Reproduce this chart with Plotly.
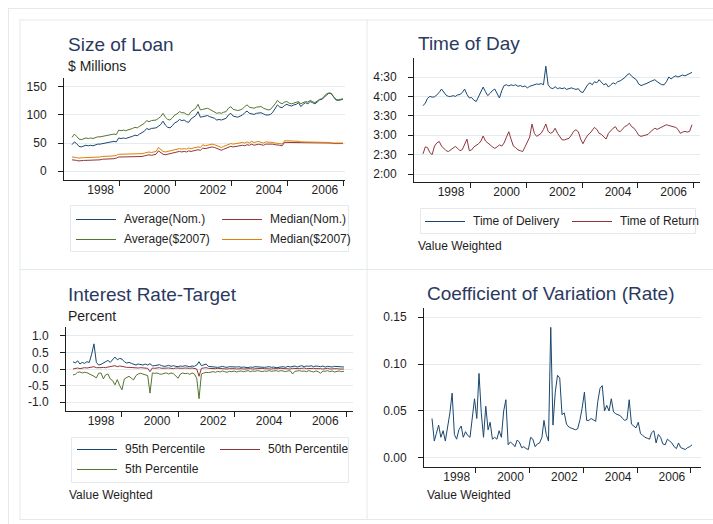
import plotly.graph_objects as go
import pandas as pd
from datetime import datetime

W, H = 713, 524

# ---------------- data ----------------
dates = pd.date_range("1997-01-01", periods=117, freq="MS").strftime("%Y-%m-%d").tolist()
tick_years = [1998, 2000, 2002, 2004, 2006]
year_labels = ["1998", "2000", "2002", "2004", "2006"]

# Size of Loan ($ Millions)
avg_nom = [47, 52, 49, 44, 43, 44, 46, 45, 46, 45, 47, 48,
           48, 49, 49, 50, 51, 52, 53, 52, 59, 58, 59, 58,
           59, 60, 62, 64, 63, 66, 68, 71, 76, 74, 76, 77,
           77, 80, 83, 89, 82, 78, 77, 81, 86, 88, 92, 90,
           91, 88, 87, 93, 96, 99, 106, 96, 97, 98, 99, 97,
           96, 94, 91, 92, 91, 93, 94, 100, 103, 98, 97, 96,
           98, 100, 104, 107, 103, 102, 101, 103, 104, 104, 102, 100,
           100, 101, 105, 111, 118, 114, 113, 117, 119, 117, 116, 118,
           119, 122, 115, 119, 122, 120, 124, 122, 120, 123, 127, 128,
           132, 137, 139, 138, 132, 127, 126, 127, 128]
avg_real = [60, 66, 62, 57, 56, 57, 59, 58, 59, 58, 60, 61,
            61, 62, 62, 63, 64, 65, 66, 65, 73, 72, 73, 72,
            73, 74, 76, 78, 77, 80, 82, 85, 90, 88, 90, 91,
            91, 94, 97, 103, 96, 92, 91, 95, 100, 102, 106, 104,
            104, 101, 100, 106, 109, 112, 119, 109, 110, 111, 112, 110,
            108, 106, 103, 104, 103, 105, 106, 112, 115, 110, 109, 108,
            109, 111, 115, 118, 114, 113, 112, 114, 115, 115, 112, 110,
            109, 110, 114, 120, 126, 122, 120, 123, 124, 121, 120, 121,
            122, 124, 120, 122, 124, 123, 126, 124, 122, 125, 128, 129,
            133, 138, 139, 139, 133, 128, 127, 128, 129]
med_nom = [20, 20, 19, 18, 19, 19, 19, 19, 20, 20, 20, 20,
           20, 21, 21, 21, 22, 22, 22, 23, 25, 25, 25, 25,
           25, 25, 25, 25, 26, 26, 26, 27, 28, 29, 28, 29,
           30, 36, 33, 30, 29, 30, 31, 32, 33, 34, 35, 34,
           35, 34, 36, 35, 36, 37, 38, 37, 41, 40, 41, 43,
           43, 42, 40, 38, 37, 39, 41, 42, 44, 43, 44, 45,
           45, 46, 45, 47, 46, 48, 46, 47, 48, 47, 46, 48,
           48, 49, 48, 47, 47, 46, 45, 51, 51, 51, 51, 50,
           50, 50, 50, 50, 50, 50, 50, 50, 50, 50, 50, 50,
           50, 50, 50, 50, 49, 49, 49, 49, 49]
med_real = [25, 25, 24, 23, 24, 24, 24, 24, 25, 25, 25, 25,
            25, 26, 26, 26, 27, 27, 27, 28, 30, 30, 30, 30,
            30, 30, 30, 30, 31, 31, 31, 32, 33, 34, 33, 34,
            35, 42, 38, 35, 34, 35, 36, 37, 38, 39, 40, 39,
            40, 39, 41, 40, 41, 42, 43, 42, 47, 45, 46, 48,
            48, 47, 45, 43, 42, 44, 46, 47, 49, 48, 49, 50,
            50, 51, 50, 52, 50, 53, 51, 52, 53, 51, 50, 52,
            52, 52, 51, 50, 50, 49, 48, 54, 54, 54, 53, 53,
            53, 53, 52, 52, 52, 52, 52, 51, 51, 51, 51, 51,
            51, 51, 51, 50, 50, 50, 50, 50, 50]

# Time of Day (hours, decimal)
t_delivery = [3.76, 3.83, 3.95, 4.0, 3.98, 3.99, 4.04, 4.1, 4.19, 4.1, 4.03, 4.0,
              4.0, 4.02, 4.0, 4.04, 4.05, 4.1, 4.19, 4.05, 3.96, 3.97, 3.9, 3.87,
              4.0, 4.15, 4.24, 4.12, 4.02, 4.08, 4.15, 4.19, 4.05, 3.96, 4.15, 4.28,
              4.3, 4.27, 4.3, 4.28, 4.3, 4.26, 4.28, 4.25, 4.27, 4.22, 4.26, 4.28,
              4.3, 4.32, 4.31, 4.33, 4.3, 4.78, 4.3, 4.22, 4.2, 4.25, 4.2, 4.22,
              4.2, 4.22, 4.18, 4.2, 4.22, 4.2, 4.18, 4.2, 4.12, 4.1, 4.22, 4.3,
              4.35, 4.3, 4.38, 4.35, 4.43, 4.36, 4.3, 4.33, 4.24, 4.3, 4.35, 4.32,
              4.38, 4.4, 4.43, 4.48, 4.55, 4.59, 4.52, 4.48, 4.43, 4.32, 4.28, 4.3,
              4.32, 4.35, 4.38, 4.4, 4.43, 4.38, 4.35, 4.3, 4.3, 4.38, 4.5, 4.45,
              4.5, 4.53, 4.5, 4.52, 4.55, 4.53, 4.56, 4.58, 4.62]
t_return = [2.52, 2.7, 2.68, 2.55, 2.5, 2.72, 2.8, 2.84, 2.72, 2.66, 2.6, 2.58,
            2.62, 2.68, 2.71, 2.66, 2.6, 2.63, 2.75, 2.9, 2.6, 2.62, 2.7, 2.74,
            2.78, 2.85, 2.98, 2.85, 2.79, 2.75, 2.7, 2.66, 2.7, 2.75, 2.72, 2.8,
            2.95, 3.09, 2.9, 2.72, 2.68, 2.62, 2.6, 2.58, 2.7, 2.82, 2.95, 3.29,
            3.05, 2.97, 3.02, 3.05, 3.15, 3.29, 3.1, 3.05, 3.08, 3.18, 3.05, 2.95,
            2.88, 2.88, 2.9, 2.92, 3.0, 3.1, 3.14, 3.09, 2.9, 2.78, 2.9, 3.0,
            3.05, 3.12, 3.2, 3.15, 3.05, 3.02, 2.95, 2.9, 3.05, 3.12, 3.18, 3.22,
            3.12, 3.09, 3.15, 3.22, 3.25, 3.31, 3.22, 3.18, 3.1, 3.0, 2.97, 2.98,
            3.0, 3.02, 3.08, 3.12, 3.18, 3.15, 3.18, 3.2, 3.22, 3.27, 3.25, 3.23,
            3.22, 3.2, 3.15, 3.05, 3.08, 3.1, 3.08, 3.1, 3.27]
time_tickvals = [2.0, 2.5, 3.0, 3.5, 4.0, 4.5]
time_ticktext = ["2:00", "2:30", "3:00", "3:30", "4:00", "4:30"]

# Interest Rate - Target (percent)
p95 = [0.22, 0.18, 0.25, 0.15, 0.2, 0.17, 0.22, 0.2, 0.45, 0.76, 0.2, 0.12,
       0.14, 0.18, 0.2, 0.26, 0.2, 0.3, 0.36, 0.28, 0.32, 0.3, 0.22, 0.18,
       0.2, 0.17, 0.14, 0.12, 0.15, 0.13, 0.12, 0.15, 0.12, 0.16, 0.1, 0.1,
       0.12, 0.13, 0.1, 0.08, 0.09, 0.11, 0.08, 0.1, 0.08, 0.07, 0.09, 0.08,
       0.1, 0.08, 0.07, 0.09, 0.08, 0.12, 0.22, 0.1, 0.12, 0.15, 0.08, 0.07,
       0.06, 0.07, 0.05, 0.06, 0.08, 0.06, 0.05, 0.07, 0.06, 0.05, 0.06, 0.07,
       0.05, 0.06, 0.05, 0.04, 0.06, 0.05, 0.07, 0.06, 0.05, 0.06, 0.05, 0.06,
       0.07, 0.05, 0.06, 0.04, 0.05, 0.06, 0.07, 0.05, 0.08, 0.06, 0.07, 0.09,
       0.06, 0.08, 0.1, 0.07, 0.09, 0.08, 0.1, 0.07, 0.09, 0.08, 0.07, 0.09,
       0.06, 0.08, 0.07, 0.06, 0.08, 0.07, 0.06, 0.07, 0.06]
p50 = [0.0, 0.02, 0.03, 0.01, 0.03, 0.04, 0.03, 0.05, 0.06, 0.07, 0.04, 0.03,
       0.04, 0.05, 0.04, 0.06, 0.07, 0.09, 0.1, 0.07, 0.09, 0.08, 0.06, 0.05,
       0.05, 0.04, 0.05, 0.04, 0.03, 0.04, 0.03, 0.04, 0.02, -0.08, 0.03, 0.02,
       0.03, 0.04, 0.02, 0.03, 0.02, 0.03, 0.02, 0.01, 0.03, 0.02, 0.03, 0.02,
       0.03, 0.02, 0.02, 0.03, 0.02, 0.0, -0.22, 0.02, 0.03, 0.04, 0.02, 0.01,
       0.02, 0.01, 0.02, 0.01, 0.02, 0.01, 0.0, 0.01, 0.02, 0.01, 0.0, 0.01,
       0.01, 0.0, 0.01, 0.02, 0.01, 0.0, 0.01, 0.0, 0.01, 0.02, 0.01, 0.0,
       0.01, 0.0, 0.01, 0.0, 0.01, 0.02, 0.01, 0.02, 0.01, 0.0, 0.02, 0.01,
       0.02, 0.01, 0.02, 0.03, 0.01, 0.02, 0.01, 0.02, 0.01, 0.02, 0.01, 0.0,
       0.01, 0.02, 0.0, 0.01, 0.02, 0.01, 0.0, 0.01, 0.0]
p5 = [-0.18, -0.16, -0.1, -0.09, -0.12, -0.1, -0.11, -0.14, -0.18, -0.22, -0.27, -0.13,
      -0.12, -0.3, -0.18, -0.15, -0.3, -0.35, -0.48, -0.32, -0.5, -0.63, -0.3, -0.25,
      -0.22, -0.28, -0.33, -0.2, -0.15, -0.13, -0.15, -0.16, -0.2, -0.73, -0.12, -0.13,
      -0.12, -0.15, -0.16, -0.13, -0.12, -0.15, -0.12, -0.14, -0.2, -0.28, -0.15, -0.12,
      -0.14, -0.13, -0.16, -0.12, -0.15, -0.28, -0.9, -0.15, -0.12, -0.1, -0.11, -0.09,
      -0.08, -0.1, -0.07, -0.09, -0.06, -0.08, -0.1, -0.07, -0.08, -0.06, -0.09, -0.07,
      -0.06, -0.08, -0.07, -0.05, -0.08, -0.06, -0.07, -0.05, -0.06, -0.08, -0.06, -0.07,
      -0.05, -0.07, -0.06, -0.05, -0.07, -0.05, -0.06, -0.08, -0.06, -0.05, -0.15, -0.07,
      -0.06, -0.05, -0.07, -0.06, -0.08, -0.05, -0.07, -0.09, -0.06, -0.08, -0.13, -0.06,
      -0.07, -0.05, -0.08, -0.06, -0.09, -0.07, -0.06, -0.08, -0.07]
rate_tickvals = [-1.0, -0.5, 0.0, 0.5, 1.0]
rate_ticktext = ["-1.0", "-0.5", "0.0", "0.5", "1.0"]

# Coefficient of Variation (Rate)
cv = [0.042, 0.018, 0.026, 0.035, 0.022, 0.029, 0.018, 0.032, 0.048, 0.069, 0.025, 0.02,
      0.03, 0.034, 0.022, 0.028, 0.024, 0.022, 0.045, 0.063, 0.042, 0.09, 0.048, 0.022,
      0.055, 0.03, 0.038, 0.02, 0.022, 0.02, 0.029, 0.022, 0.05, 0.062, 0.014, 0.017,
      0.015, 0.012, 0.019, 0.017, 0.011, 0.012, 0.01, 0.009, 0.022, 0.02, 0.012, 0.015,
      0.016, 0.022, 0.04, 0.025, 0.018, 0.139, 0.035, 0.07, 0.088, 0.085, 0.046, 0.048,
      0.036, 0.033, 0.032, 0.031, 0.03, 0.031, 0.04, 0.053, 0.07, 0.04, 0.04, 0.042,
      0.04, 0.039, 0.06, 0.074, 0.077, 0.05, 0.056, 0.05, 0.063, 0.049, 0.047, 0.046,
      0.045, 0.042, 0.04, 0.041, 0.062, 0.036, 0.034, 0.032, 0.038, 0.026, 0.024, 0.022,
      0.021, 0.02, 0.027, 0.029, 0.016, 0.025, 0.022, 0.015, 0.014, 0.02, 0.018, 0.016,
      0.012, 0.01, 0.016, 0.011, 0.01, 0.009, 0.011, 0.012, 0.014]
cv_tickvals = [0.0, 0.05, 0.10, 0.15]
cv_ticktext = ["0.00", "0.05", "0.10", "0.15"]

for s in (avg_nom, avg_real, med_nom, med_real, t_delivery, t_return, p95, p50, p5, cv):
    assert len(s) == len(dates), len(s)

# ---------------- style ----------------
NAVY, MAROON, GREEN, ORANGE = "#1a476f", "#90353b", "#55752f", "#e37e00"
GRID = "#e4ebef"
AXC = "#1e1e1e"
FRAME = "#e3eaee"
TITLE = "#2b3961"
TXT = "#1e1e1e"
FONT = "Liberation Sans, Arial, sans-serif"


def dec2date(v):
    y = int(v)
    a, b = datetime(y, 1, 1), datetime(y + 1, 1, 1)
    return (a + (b - a) * (v - y)).strftime("%Y-%m-%d %H:%M:%S")


def fx(px):
    return px / W


def fy(py):
    return 1 - py / H


fig = go.Figure()


def add_line(y, name, color, ax):
    fig.add_trace(go.Scatter(
        x=dates, y=y, name=name, mode="lines",
        line=dict(color=color, width=1),
        xaxis="x" + ax, yaxis="y" + ax,
        showlegend=False, hoverinfo="skip"))


add_line(avg_nom, "Average(Nom.)", NAVY, "")
add_line(med_nom, "Median(Nom.)", MAROON, "")
add_line(avg_real, "Average($2007)", GREEN, "")
add_line(med_real, "Median($2007)", ORANGE, "")

add_line(t_delivery, "Time of Delivery", NAVY, "2")
add_line(t_return, "Time of Return", MAROON, "2")

add_line(p95, "95th Percentile", NAVY, "3")
add_line(p50, "50th Percentile", MAROON, "3")
add_line(p5, "5th Percentile", GREEN, "3")

add_line(cv, "Coefficient of Variation", NAVY, "4")


def xax(x0, x1, r0, r1, offset, shift, anchor):
    return dict(
        domain=[fx(x0), fx(x1)], range=[dec2date(r0), dec2date(r1)], type="date",
        tickmode="array", tickvals=[dec2date(t + offset) for t in tick_years],
        ticktext=year_labels, ticks="outside", ticklen=5, tickcolor=AXC, tickwidth=1,
        ticklabelshift=shift, ticklabelstandoff=-6,
        showgrid=False, zeroline=False, showline=True, linecolor=AXC, linewidth=1,
        tickfont=dict(size=12, color=TXT, family=FONT),
        anchor=anchor, fixedrange=True)


def yax(y0, y1, rng, tickvals, ticktext, anchor):
    return dict(
        domain=[fy(y1), fy(y0)], range=rng, tickmode="array",
        tickvals=tickvals, ticktext=ticktext, ticks="outside", ticklen=5,
        tickcolor=AXC, tickwidth=1, showgrid=True, gridcolor=GRID, gridwidth=1,
        zeroline=False, showline=True, linecolor=AXC, linewidth=1,
        tickfont=dict(size=12, color=TXT, family=FONT), ticklabelstandoff=9,
        anchor=anchor, fixedrange=True)


def note(px, py, text, size, color=TXT):
    return dict(x=fx(px), y=fy(py), xref="paper", yref="paper", text=text,
                showarrow=False, xanchor="left", yanchor="middle",
                font=dict(size=size, color=color, family=FONT))


def hline(py, x0, x1):
    return dict(type="line", xref="paper", yref="paper", x0=fx(x0), x1=fx(x1),
                y0=fy(py + 0.5), y1=fy(py + 0.5), line=dict(color=FRAME, width=1), layer="below")


def vline(px, y0, y1):
    return dict(type="line", xref="paper", yref="paper", x0=fx(px + 0.5), x1=fx(px + 0.5),
                y0=fy(y0), y1=fy(y1), line=dict(color=FRAME, width=1), layer="below")


def box(x0, y0, x1, y1):
    return dict(type="rect", xref="paper", yref="paper",
                x0=fx(x0 + 0.5), x1=fx(x1 + 0.5), y0=fy(y0 + 0.5), y1=fy(y1 + 0.5),
                line=dict(color=FRAME, width=1), fillcolor="white", layer="below")


# legend keys: (sample-line start x, row y, label, colour); sample 40 px long, label 8 px after
legend_keys = [
    (76, 219, "Average(Nom.)", NAVY), (222, 219, "Median(Nom.)", MAROON),
    (76, 239, "Average($2007)", GREEN), (222, 239, "Median($2007)", ORANGE),
    (425, 221, "Time of Delivery", NAVY), (572, 221, "Time of Return", MAROON),
    (77, 449, "95th Percentile", NAVY), (220, 449, "50th Percentile", MAROON),
    (77, 469, "5th Percentile", GREEN),
]
key_shapes = []
key_texts = []
for kx, ky, label, col in legend_keys:
    key_shapes.append(dict(type="line", xref="paper", yref="paper",
                           x0=fx(kx), x1=fx(kx + 40), y0=fy(ky + 0.5), y1=fy(ky + 0.5),
                           line=dict(color=col, width=1), layer="above"))
    key_texts.append(note(kx + 46, ky, label, 12))

fig.update_layout(
    width=W, height=H, autosize=False,
    margin=dict(l=0, r=0, t=0, b=0),
    paper_bgcolor="white", plot_bgcolor="white",
    font=dict(family=FONT, size=12, color=TXT),
    hovermode=False, showlegend=False,
    xaxis=xax(64, 345, 1996.714, 2006.74, 0.70, -19, "y"),
    yaxis=yax(78, 180, [-16, 166], [0, 50, 100, 150], ["0", "50", "100", "150"], "x"),
    xaxis2=xax(414, 700, 1996.677, 2006.954, 0.725, -20, "y2"),
    yaxis2=yax(58, 182, [1.794, 4.99], time_tickvals, time_ticktext, "x2"),
    xaxis3=xax(66, 353, 1996.75, 2006.99, 0.748, -21, "y3"),
    yaxis3=yax(327, 411, [-1.27, 1.27], rate_tickvals, rate_ticktext, "x3"),
    xaxis4=xax(424, 701, 1996.703, 2006.999, 0.625, -19, "y4"),
    yaxis4=yax(308, 467, [-0.0096, 0.1596], cv_tickvals, cv_ticktext, "x4"),
    annotations=[
        note(66, 44, "Size of Loan", 19, TITLE),
        note(66, 66, "$ Millions", 14),
        note(416, 43.5, "Time of Day", 19, TITLE),
        note(416, 245.5, "Value Weighted", 12),
        note(66, 294, "Interest Rate-Target", 19, TITLE),
        note(66, 316, "Percent", 14),
        note(67, 495, "Value Weighted", 12),
        note(425, 293.5, "Coefficient of Variation (Rate)", 19, TITLE),
        note(425, 495, "Value Weighted", 12),
    ] + key_texts,
    shapes=[
        hline(8, 8, 713), vline(8, 8, 524),
        hline(19.5, 19.5, 713), vline(19.5, 19.5, 519.5),
        hline(519, 19.5, 713), vline(366.5, 19.5, 519.5),
        hline(269, 19.5, 713),
        box(70, 205, 348, 251),
        box(420, 208, 695, 233),
        box(71, 437, 348, 482),
    ] + key_shapes,
)

fig.write_html("out.html", config={"displayModeBar": False, "staticPlot": True},
               post_script="document.body.style.margin='0px';")
